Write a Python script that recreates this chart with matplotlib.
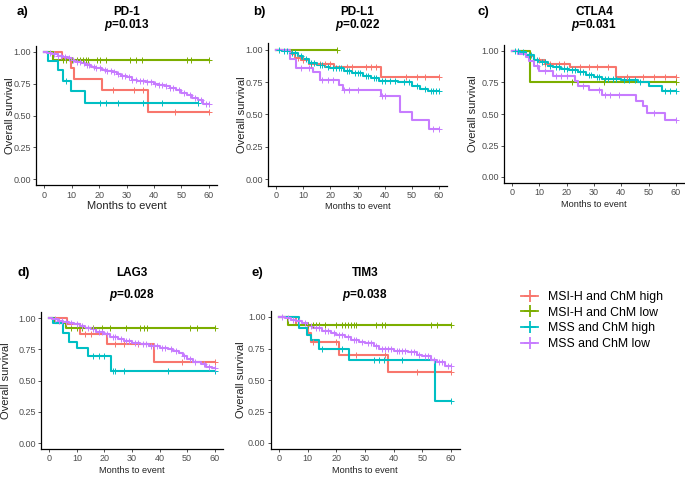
import numpy as np
import matplotlib
matplotlib.use('Agg')
import matplotlib.pyplot as plt
from matplotlib.lines import Line2D

plt.rcParams['font.family'] = ['Liberation Sans', 'DejaVu Sans']
plt.rcParams['mathtext.fontset'] = 'custom'
plt.rcParams['mathtext.bfit'] = 'Liberation Sans:italic:bold'

groups = ["MSI-H and ChM high", "MSI-H and ChM low", "MSS and ChM high", "MSS and ChM low"]
colors = ["#F8766D", "#7CAE00", "#00BFC4", "#C77CFF"]
genes = ["PD-1", "PD-L1", "CTLA4", "LAG3", "TIM3"]
pvals = ["0.013", "0.022", "0.031", "0.028", "0.038"]
letters = ["a)", "b)", "c)", "d)", "e)"]

# --- PD-1 : event times, survival after event, censor times (per group)
pd1_t = [[6.3, 9.7, 10.8, 21.2, 38],
         [3.3],
         [1.5, 5.1, 6.9, 9.7, 14.8],
         [1, 3, 5, 7, 8.5, 10, 11, 12, 13.5, 15, 17, 19, 21, 23, 25, 26.5, 28, 30, 32,
          34, 37, 40, 42, 44, 46, 48, 50, 52, 54, 56, 58]]
pd1_s = [[0.95, 0.87, 0.79, 0.70, 0.53],
         [0.94],
         [0.93, 0.86, 0.77, 0.69, 0.60],
         [0.99, 0.98, 0.97, 0.96, 0.95, 0.94, 0.93, 0.92, 0.91, 0.90, 0.88, 0.87, 0.86, 0.85,
          0.84, 0.83, 0.81, 0.80, 0.78, 0.77, 0.76, 0.75, 0.74, 0.73, 0.72, 0.70, 0.68, 0.66,
          0.64, 0.62, 0.59]]
pd1_c = [[25.2, 32.8, 36, 47.6, 60],
         [6.9, 8.1, 10, 11.8, 13, 14.2, 15.2, 16, 19.1, 20.3, 22.7, 31.2, 33.6, 35.5, 51.9, 53.7, 60],
         [8.1, 20.3, 22.7, 27, 36, 43.1, 56],
         [2, 3.5, 5, 6, 7.5, 9, 10.5, 12, 13, 14.5, 15.5, 16.5, 18, 19, 20.5, 22, 23, 24.5, 25.5,
          27, 28.5, 29.5, 31, 32, 33.5, 35, 36, 37.5, 39, 40.5, 42, 43, 44.5, 46, 47, 49, 51, 53,
          55, 57, 59, 60]]

# --- PD-L1
pdl1_t = [[5.5, 7, 9, 12, 21.5, 38.5],
          [],
          [2, 5, 8, 10, 12, 15, 18, 20, 25, 28, 32, 35, 38, 45, 50, 53, 56],
          [5, 7.5, 13.5, 16, 23, 24.5, 38.5, 45.5, 50, 56.5]]
pdl1_s = [[0.97, 0.94, 0.92, 0.89, 0.87, 0.79],
          [],
          [0.99, 0.98, 0.95, 0.93, 0.90, 0.88, 0.87, 0.86, 0.84, 0.82, 0.80, 0.78, 0.76, 0.75,
           0.72, 0.70, 0.68],
          [0.93, 0.86, 0.83, 0.77, 0.73, 0.69, 0.64, 0.52, 0.46, 0.39]]
pdl1_c = [[8, 10, 13, 16, 18, 20, 26, 28, 33, 35, 37, 48, 52, 55, 60],
          [22.5],
          [1, 3, 4, 6, 7, 9, 11, 13, 14, 16, 17, 19, 21, 22, 23, 24, 26, 27, 29, 30, 31, 33, 34,
           36, 37, 39, 40, 42, 44, 47, 49, 52, 55, 57, 58, 59, 60],
          [9, 12, 17, 19, 21, 25, 27, 30, 39, 40, 58, 60]]

# --- CTLA4
ctla4_t = [[5, 8, 12, 21.1, 38.2],
           [6.7],
           [3, 5, 8, 10, 13, 15, 18, 21, 24, 27, 30, 33, 40, 46, 50, 55],
           [2, 5, 6, 8, 10, 15, 23, 24, 28, 33, 45.5, 48, 49.5, 56]]
ctla4_s = [[0.96, 0.93, 0.90, 0.87, 0.79],
           [0.75],
           [0.99, 0.97, 0.93, 0.91, 0.88, 0.87, 0.86, 0.85, 0.83, 0.81, 0.79, 0.78, 0.77, 0.75,
            0.72, 0.68],
           [0.98, 0.95, 0.92, 0.88, 0.84, 0.80, 0.76, 0.72, 0.69, 0.65, 0.60, 0.56, 0.51, 0.45]]
ctla4_c = [[10, 12, 14, 17, 19, 25, 28, 31, 35, 42, 48, 52, 56, 60],
           [21.9, 33.5, 60],
           [1, 2, 4, 6, 7, 9, 11, 12, 14, 16, 17, 19, 20, 22, 23, 25, 26, 28, 29, 31, 32, 34, 35,
            37, 38, 41, 43, 45, 47, 56, 58, 60],
           [9, 12, 16, 18, 20, 26, 32, 34, 36, 39, 52, 60]]

# --- LAG3
lag3_t = [[6.3, 11.1, 21, 37.9],
          [2, 6],
          [1.5, 5, 7, 10, 14, 22.5],
          [1, 3, 5, 7, 9, 11, 13, 15, 17, 20, 22, 25, 27, 30, 33, 36, 40, 43, 45, 47, 48.5, 50,
           52, 55, 57, 59]]
lag3_s = [[0.95, 0.87, 0.79, 0.65],
          [0.96, 0.92],
          [0.96, 0.88, 0.81, 0.76, 0.70, 0.58],
          [0.99, 0.98, 0.97, 0.96, 0.95, 0.94, 0.92, 0.91, 0.89, 0.87, 0.85, 0.83, 0.82, 0.80,
           0.79, 0.78, 0.76, 0.75, 0.74, 0.72, 0.70, 0.67, 0.65, 0.63, 0.61, 0.60]]
lag3_c = [[13, 15, 24, 27, 32, 48, 60],
          [8, 10, 12, 16, 19, 22, 28, 33, 34.5, 35.5, 51, 53.5, 60],
          [16, 18, 20, 23, 24, 27, 43, 60],
          [2, 3.5, 4.5, 6, 8, 10, 12, 14, 16, 18, 19, 21, 23, 24, 26, 28, 29, 31, 32, 34, 35,
           37, 38, 39, 41, 42, 44, 46, 49, 51, 53, 56, 58, 60]]

# --- TIM3
tim3_t = [[6, 10, 11, 21, 38],
          [3],
          [6.8, 9.9, 11.1, 14.1, 24.5, 54.5],
          [2, 4, 6, 8, 10, 12, 15, 18, 20, 23, 25, 28, 30, 33, 35, 40, 45, 48, 50, 53, 55, 58]]
tim3_s = [[0.94, 0.87, 0.80, 0.70, 0.56],
          [0.94],
          [0.91, 0.86, 0.82, 0.75, 0.66, 0.33],
          [0.99, 0.98, 0.97, 0.95, 0.93, 0.91, 0.89, 0.87, 0.86, 0.84, 0.82, 0.80, 0.79, 0.77,
           0.75, 0.73, 0.72, 0.70, 0.69, 0.66, 0.64, 0.61]]
tim3_c = [[12, 20, 27, 37, 48, 60],
          [10, 12, 13, 14, 16, 20, 22, 23, 24, 25, 26, 27, 34, 36, 37, 53, 55, 60],
          [15, 22, 33, 35, 36.5, 43, 60],
          [1, 3, 5, 7, 9, 11, 13, 14, 16, 17, 19, 21, 22, 24, 26, 27, 29, 31, 32, 34, 36, 37,
           38, 39, 41, 42, 43, 44, 46, 47, 49, 51, 52, 54, 56, 57, 59, 60]]

all_t = [pd1_t, pdl1_t, ctla4_t, lag3_t, tim3_t]
all_s = [pd1_s, pdl1_s, ctla4_s, lag3_s, tim3_s]
all_c = [pd1_c, pdl1_c, ctla4_c, lag3_c, tim3_c]

W, H = 685, 479
# axes boxes in pixels: left, top, right, bottom
boxes = [(36, 45.6, 217, 185.4),
         (268, 43.5, 447, 185.5),
         (504, 44.7, 684, 183.3),
         (41, 311.8, 223, 449.3),
         (270.5, 310.7, 459.5, 449.3)]
title_y = [(12, 25), (12, 25), (12, 25), (273, 295), (273, 295)]
letter_x = [17, 253, 477, 17, 252]
ylab_x = [10, 242, 473, 6.5, 240.5]
xlab_size = [8, 6.6, 6.6, 6.6, 6.6]
xlab_pad = [1, 2, 2, 2, 2]

fig = plt.figure(figsize=(W / 100, H / 100), dpi=100)


def km(ax, times, surv, cens, color):
    x = [0] + list(times)
    y = [1.0] + list(surv)
    end = max(list(cens) + list(times))
    ax.step(x + [end], y + [y[-1]], where='post', color=color, lw=1.5, zorder=2)
    idx = np.searchsorted(np.array(x), np.array(cens), side='right') - 1
    cy = np.array(y)[idx]
    ax.plot(cens, cy, ls='none', marker='+', color=color, ms=4.5, mew=0.7, zorder=3)


for i in range(5):
    l, t, r, b = boxes[i]
    ax = fig.add_axes([l / W, 1 - b / H, (r - l) / W, (b - t) / H])
    for g in range(4):
        km(ax, all_t[i][g], all_s[i][g], all_c[i][g], colors[g])
    ax.set_xlim(-3, 63)
    ax.set_ylim(-0.05, 1.05)
    ax.set_xticks(range(0, 61, 10))
    ax.set_yticks([0, 0.25, 0.5, 0.75, 1.0])
    ax.set_yticklabels(["0.00", "0.25", "0.50", "0.75", "1.00"])
    for s in ['top', 'right']:
        ax.spines[s].set_visible(False)
    for s in ['left', 'bottom']:
        ax.spines[s].set_linewidth(0.9)
    ax.tick_params(length=2.5, width=0.6, color='#333333', labelsize=6.5,
                   labelcolor='#4D4D4D', pad=1.2)
    ax.set_xlabel("Months to event", fontsize=xlab_size[i], color='#222222',
                  labelpad=xlab_pad[i])
    fig.text(ylab_x[i] / W, 1 - ((t + b) / 2) / H, "Overall survival", rotation=90,
             fontsize=8, ha='center', va='center', color='#222222')
    cx = (l + r) / 2 / W
    fig.text(cx, 1 - title_y[i][0] / H, genes[i], ha='center', va='center',
             fontsize=8.5, fontweight='bold')
    fig.text(cx, 1 - title_y[i][1] / H, r'$\mathbfit{p}$=' + pvals[i], ha='center',
             va='center', fontsize=8.5, fontweight='bold')
    fig.text(letter_x[i] / W, 1 - title_y[i][0] / H, letters[i], ha='left', va='center',
             fontsize=9.5, fontweight='bold')

handles = [Line2D([0], [0], color=c, lw=1.3, marker='+', ms=8, mew=1.3) for c in colors]
fig.legend(handles, groups, loc='upper left', bbox_to_anchor=(521 / W, 1 - 291 / H),
           frameon=False, fontsize=8.8, handlelength=1.4, handletextpad=0.8,
           labelspacing=0.3, borderaxespad=0, borderpad=0)

plt.savefig("out.png", dpi=100)
